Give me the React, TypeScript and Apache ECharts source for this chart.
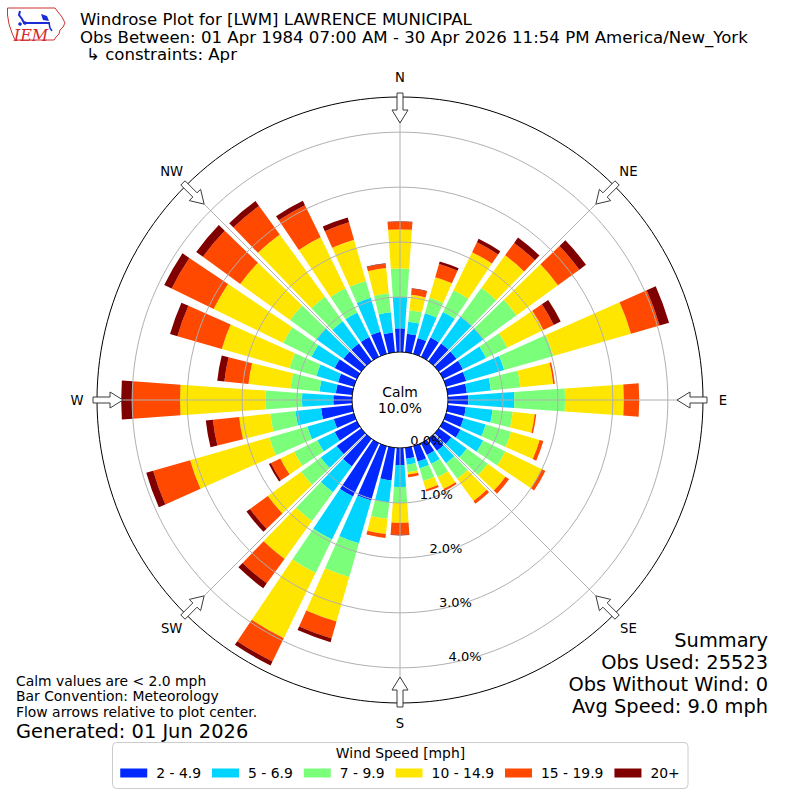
import React, { useEffect, useRef } from 'react';
import * as echarts from 'echarts';

// ---- Data ----
const DIRECTIONS = ['0', '10', '20', '30', '40', '50', '60', '70', '80', '90', '100', '110', '120', '130', '140', '150', '160', '170', '180', '190', '200', '210', '220', '230', '240', '250', '260', '270', '280', '290', '300', '310', '320', '330', '340', '350'];
const SPEED_BINS = ['2 - 4.9', '5 - 6.9', '7 - 9.9', '10 - 14.9', '15 - 19.9', '20+'];
const BIN_COLORS = ['#0028FF', '#00D4FF', '#7BFF7B', '#FFE600', '#FF4800', '#800000'];

// frequency (%) of each direction, per speed bin
const FREQ_2_5 = [0.43, 0.34, 0.30, 0.39, 0.40, 0.40, 0.40, 0.38, 0.35, 0.37, 0.33, 0.33, 0.35, 0.28, 0.27, 0.24, 0.29, 0.20, 0.31, 0.60, 1.03, 1.08, 0.62, 0.55, 0.45, 0.38, 0.57, 0.34, 0.30, 0.30, 0.45, 0.40, 0.40, 0.40, 0.42, 0.36];
const FREQ_5_7 = [0.57, 0.22, 0.47, 0.52, 0.60, 0.60, 0.47, 0.72, 0.44, 0.84, 0.49, 0.42, 0.46, 0.35, 0.28, 0.18, 0.13, 0.11, 0.40, 0.40, 0.81, 0.87, 0.58, 0.36, 0.35, 0.50, 0.47, 0.57, 0.30, 0.41, 0.47, 0.60, 0.50, 0.50, 0.64, 0.37];
const FREQ_7_10 = [0.52, 0.21, 0.29, 0.44, 0.65, 0.75, 0.43, 0.93, 0.54, 0.92, 0.37, 0.48, 0.45, 0.47, 0.35, 0.27, 0.24, 0.14, 0.29, 0.30, 0.64, 0.68, 0.65, 0.44, 0.47, 0.72, 0.46, 0.67, 0.53, 0.51, 0.57, 0.60, 0.55, 0.49, 0.32, 0.35];
const FREQ_10_15 = [0.71, 0.28, 0.39, 0.77, 0.73, 0.93, 0.73, 1.47, 0.60, 1.07, 0.40, 0.54, 0.74, 0.40, 0.50, 0.24, 0.16, 0.04, 0.36, 0.28, 0.84, 1.32, 0.85, 0.75, 0.28, 1.50, 0.57, 1.55, 0.77, 1.28, 1.41, 1.12, 1.40, 1.03, 0.78, 0.46];
const FREQ_15_20 = [0.14, 0.11, 0.25, 0.20, 0.28, 0.48, 0.21, 0.54, 0.03, 0.28, 0.03, 0.07, 0.07, 0.08, 0.06, 0.04, 0.04, 0.05, 0.22, 0.07, 0.32, 0.47, 0.55, 0.40, 0.19, 0.70, 0.48, 0.87, 0.44, 0.84, 0.85, 0.84, 0.64, 0.65, 0.33, 0.08];
const FREQ_20P = [0.01, 0.01, 0.05, 0.07, 0.12, 0.15, 0.14, 0.18, 0, 0, 0, 0, 0, 0, 0, 0, 0, 0, 0.01, 0, 0.07, 0.08, 0.11, 0.08, 0.04, 0.13, 0.13, 0.20, 0.13, 0.14, 0.15, 0.15, 0.11, 0.09, 0.09, 0.01];
const FREQS = [FREQ_2_5, FREQ_5_7, FREQ_7_10, FREQ_10_15, FREQ_15_20, FREQ_20P];

const COMPASS_LABELS = ['N', 'NE', 'E', 'SE', 'S', 'SW', 'W', 'NW'];
const COMPASS_DEG = [0, 45, 90, 135, 180, 225, 270, 315];
const CALM_PCT = 10.0;
const RADIUS_MAX = 4.64;

const TITLE_LINES = [
  'Windrose Plot for [LWM] LAWRENCE MUNICIPAL',
  'Obs Between: 01 Apr 1984 07:00 AM - 30 Apr 2026 11:54 PM America/New_York',
  '\u21B3 constraints: Apr',
];
const NOTE_LINES = ['Calm values are < 2.0 mph', 'Bar Convention: Meteorology', 'Flow arrows relative to plot center.'];
const GENERATED = 'Generated: 01 Jun 2026';
const OBS_USED = 25523;
const OBS_NO_WIND = 0;
const AVG_SPEED = 9.0;
const LEGEND_TITLE = 'Wind Speed [mph]';

// ---- Layout ----
const FONT = '"DejaVu Sans", sans-serif';
const CX = 400;
const CY = 400;
const R_IN = 48;
const R_OUT = 303;
const R_LABEL = 323;

function arrowPoints(deg: number) {
  const a = (deg * Math.PI) / 180;
  const s = Math.sin(a);
  const c = Math.cos(a);
  const local = [
    [307, -3],
    [307, 3],
    [290, 3],
    [290, 8],
    [277, 0],
    [290, -8],
    [290, -3],
  ];
  return local.map(([rho, t]) => [CX + rho * s + t * c, CY - rho * c + t * s]);
}

function buildOption() {
  const series = SPEED_BINS.map((name, i) => ({
    type: 'bar',
    name,
    coordinateSystem: 'polar',
    polarIndex: 0,
    stack: 'wind',
    data: FREQS[i],
    barCategoryGap: '20%',
    itemStyle: { color: BIN_COLORS[i] },
    z: 2,
  }));

  const graphic: any[] = [];

  // title
  const titleY = [19.5, 37, 54.5];
  TITLE_LINES.forEach((t, i) => {
    graphic.push({
      type: 'text',
      x: i === 2 ? 86 : 80,
      y: titleY[i],
      style: { text: t, fontSize: 16.6, fontFamily: FONT, fill: '#000', textVerticalAlign: 'middle', verticalAlign: 'middle' },
    });
  });

  // IEM logo
  graphic.push({
    type: 'polygon',
    shape: {
      points: [
        [7.5, 8], [55, 8], [58, 12], [62, 17], [65, 23], [63, 27], [60, 30], [59, 34], [56, 37], [54, 40], [15, 40], [12, 33], [9, 24], [7.5, 15],
      ],
    },
    style: { fill: 'none', stroke: '#d03030', lineWidth: 1 },
  });
  graphic.push({
    type: 'text',
    x: 31,
    y: 35.5,
    style: { text: 'IEM', fontSize: 16, fontStyle: 'italic', fontFamily: '"DejaVu Serif", serif', fill: '#d42a2a', textAlign: 'center', align: 'center', textVerticalAlign: 'middle', verticalAlign: 'middle' },
  });
  graphic.push({ type: 'polyline', shape: { points: [[20, 11], [19, 15], [22, 19], [24, 23], [50, 23]] }, style: { stroke: '#1a2cd8', lineWidth: 2, fill: 'none' } });
  graphic.push({ type: 'polygon', shape: { points: [[41, 14], [47, 16], [49, 21], [43, 20]] }, style: { fill: '#1a2cd8' } });
  graphic.push({ type: 'polyline', shape: { points: [[49, 23], [50, 28], [52, 31]] }, style: { stroke: '#1a2cd8', lineWidth: 1.5, fill: 'none' } });
  graphic.push({ type: 'circle', shape: { cx: 20, cy: 24, r: 1.8 }, style: { fill: '#1a2cd8' } });
  graphic.push({ type: 'circle', shape: { cx: 25, cy: 23, r: 1.8 }, style: { fill: '#1a2cd8' } });

  // calm
  graphic.push({
    type: 'text',
    x: CX,
    y: CY,
    z: 30,
    style: { text: 'Calm\n' + CALM_PCT.toFixed(1) + '%', fontSize: 13.9, lineHeight: 16.5, fontFamily: FONT, fill: '#000', textAlign: 'center', align: 'center', textVerticalAlign: 'middle', verticalAlign: 'middle' },
  });

  // compass labels + flow arrows
  COMPASS_DEG.forEach((d, i) => {
    const a = (d * Math.PI) / 180;
    graphic.push({
      type: 'text',
      x: CX + R_LABEL * Math.sin(a),
      y: CY - R_LABEL * Math.cos(a),
      style: { text: COMPASS_LABELS[i], fontSize: 13.2, fontFamily: FONT, fill: '#000', textAlign: 'center', align: 'center', textVerticalAlign: 'middle', verticalAlign: 'middle' },
    });
    graphic.push({
      type: 'polygon',
      z: 40,
      shape: { points: arrowPoints(d) },
      style: { fill: '#ffffff', stroke: '#3a3a3a', lineWidth: 1 },
    });
  });

  // notes bottom-left
  const noteY = [680.5, 696, 711.5];
  NOTE_LINES.forEach((t, i) => {
    graphic.push({
      type: 'text',
      x: 16,
      y: noteY[i],
      style: { text: t, fontSize: 13.9, fontFamily: FONT, fill: '#000', textVerticalAlign: 'middle', verticalAlign: 'middle' },
    });
  });
  graphic.push({
    type: 'text',
    x: 16,
    y: 731,
    style: { text: GENERATED, fontSize: 19.4, fontFamily: FONT, fill: '#000', textVerticalAlign: 'middle', verticalAlign: 'middle' },
  });

  // summary bottom-right
  const summary = ['Summary', 'Obs Used: ' + OBS_USED, 'Obs Without Wind: ' + OBS_NO_WIND, 'Avg Speed: ' + AVG_SPEED.toFixed(1) + ' mph'];
  const sumY = [640, 662.2, 684.4, 706.6];
  summary.forEach((t, i) => {
    graphic.push({
      type: 'text',
      x: 768,
      y: sumY[i],
      style: { text: t, fontSize: 19.4, fontFamily: FONT, fill: '#000', textAlign: 'right', align: 'right', textVerticalAlign: 'middle', verticalAlign: 'middle' },
    });
  });

  // legend box + title
  graphic.push({
    type: 'rect',
    z: -1,
    shape: { x: 112.5, y: 742.5, width: 575.5, height: 46, r: 4 },
    style: { fill: '#ffffff', stroke: '#cccccc', lineWidth: 1 },
  });
  graphic.push({
    type: 'text',
    x: 400.5,
    y: 753,
    style: { text: LEGEND_TITLE, fontSize: 13.9, fontFamily: FONT, fill: '#000', textAlign: 'center', align: 'center', textVerticalAlign: 'middle', verticalAlign: 'middle' },
  });

  const gray = '#b0b0b0';

  return {
    animation: false,
    backgroundColor: '#ffffff',
    polar: [
      { center: [CX, CY], radius: [R_IN, R_OUT] },
      { center: [CX, CY], radius: [R_IN, R_OUT] },
      { center: [CX, CY], radius: [R_IN, R_OUT] },
    ],
    angleAxis: [
      { polarIndex: 0, type: 'category', data: DIRECTIONS, startAngle: 95, clockwise: true, show: false },
      {
        polarIndex: 1,
        type: 'value',
        min: 0,
        max: 360,
        interval: 45,
        startAngle: 90,
        clockwise: true,
        z: 10,
        axisLine: { show: false },
        axisTick: { show: false },
        axisLabel: { show: false },
        splitLine: { show: true, lineStyle: { color: gray, width: 1 } },
      },
      { polarIndex: 2, type: 'value', min: 0, max: 360, startAngle: 280, clockwise: true, show: false },
    ],
    radiusAxis: [
      { polarIndex: 0, type: 'value', min: 0, max: RADIUS_MAX, show: false },
      {
        polarIndex: 1,
        type: 'value',
        min: 0,
        max: RADIUS_MAX,
        interval: 1,
        z: 10,
        axisLine: { show: false },
        axisTick: { show: false },
        axisLabel: { show: false },
        splitLine: { show: true, lineStyle: { color: ['#000000', gray, gray, gray, gray, '#000000'], width: 1 } },
      },
      {
        polarIndex: 2,
        type: 'value',
        min: 0,
        max: RADIUS_MAX,
        interval: 1,
        z: 10,
        axisLine: { show: false },
        axisTick: { show: false },
        splitLine: { show: false },
        axisLabel: {
          show: true,
          margin: 2,
          showMaxLabel: false,
          align: 'left',
          verticalAlign: 'bottom',
          fontSize: 13,
          fontFamily: FONT,
          color: '#000',
          formatter: (v: number) => (Math.abs(v - Math.round(v)) < 1e-6 ? v.toFixed(1) + '%' : ''),
        },
      },
    ],
    legend: {
      data: SPEED_BINS,
      left: 'center',
      top: 766,
      orient: 'horizontal',
      icon: 'rect',
      itemWidth: 27,
      itemHeight: 9,
      itemGap: 11,
      padding: 0,
      selectedMode: false,
      z: 5,
      textStyle: { fontFamily: FONT, fontSize: 13.9, color: '#000', padding: [0, 0, 0, 4] },
    },
    graphic,
    series,
  };
}

export default function App() {
  const ref = useRef<HTMLDivElement>(null);
  useEffect(() => {
    if (!ref.current) return;
    const chart = echarts.init(ref.current, null, { renderer: 'svg' });
    chart.setOption(buildOption() as any);
    return () => {
      chart.dispose();
    };
  }, []);
  return (
    <div
      ref={ref}
      style={{ position: 'fixed', left: 0, top: 0, width: 800, height: 800, background: '#ffffff' }}
    />
  );
}
